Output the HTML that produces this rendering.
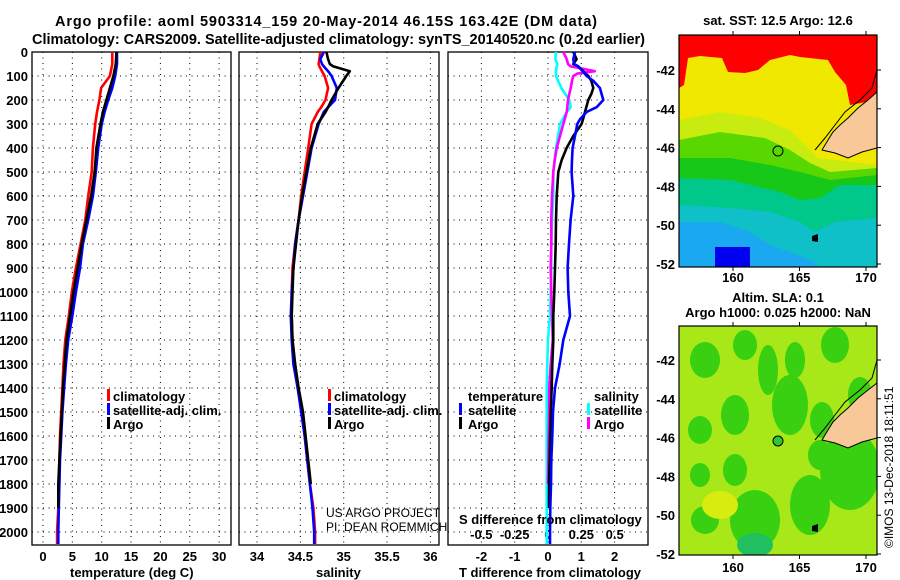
<!DOCTYPE html>
<html><head><meta charset="utf-8"><style>
html,body{margin:0;padding:0;background:#fff;}
svg{display:block;font-family:"Liberation Sans",sans-serif;font-weight:bold;}
</style></head><body>
<svg id="fig" width="900" height="580" viewBox="0 0 900 580" xmlns="http://www.w3.org/2000/svg">
<defs>
<clipPath id="c1"><rect x="32" y="37" width="199" height="508"/></clipPath>
<clipPath id="c2"><rect x="239" y="37" width="200" height="508"/></clipPath>
<clipPath id="c3"><rect x="448" y="37" width="200" height="508"/></clipPath>
<clipPath id="m1"><rect x="679" y="35" width="198" height="232"/></clipPath>
<clipPath id="m2"><rect x="679" y="326" width="198" height="229"/></clipPath>
</defs>
<text x="55" y="26" font-size="14.5" textLength="542">Argo profile: aoml 5903314_159 20-May-2014 46.15S 163.42E (DM data)</text>
<text x="32" y="44" font-size="14.5" textLength="613">Climatology: CARS2009. Satellite-adjusted climatology: synTS_20140520.nc (0.2d earlier)</text>
<g id="grid" stroke="#000" stroke-width="1" stroke-dasharray="1,4.5"></g>
<g id="axes"></g>
<g id="series"></g>
<!-- legends -->
<g font-size="13">
<rect x="107" y="389" width="3" height="12" fill="#f00"/><text x="113" y="401">climatology</text>
<rect x="107" y="403" width="3" height="12" fill="#00f"/><text x="113" y="415">satellite-adj. clim.</text>
<rect x="107" y="417" width="3" height="12" fill="#000"/><text x="113" y="429">Argo</text>
</g>
<g font-size="13">
<rect x="328" y="389" width="3" height="12" fill="#f00"/><text x="334" y="401">climatology</text>
<rect x="328" y="403" width="3" height="12" fill="#00f"/><text x="334" y="415">satellite-adj. clim.</text>
<rect x="328" y="417" width="3" height="12" fill="#000"/><text x="334" y="429">Argo</text>
</g>
<g font-size="12" font-weight="normal">
<text x="326" y="517">US ARGO PROJECT</text><text x="326" y="531">PI: DEAN ROEMMICH</text>
</g>
<g font-size="13">
<text x="468" y="401">temperature</text>
<rect x="459" y="403" width="3" height="12" fill="#00f"/><text x="468" y="415">satellite</text>
<rect x="459" y="417" width="3" height="12" fill="#000"/><text x="468" y="429">Argo</text>
<text x="594" y="401">salinity</text>
<rect x="587" y="403" width="3" height="12" fill="#0ff"/><text x="594" y="415">satellite</text>
<rect x="587" y="417" width="3" height="12" fill="#f0f"/><text x="594" y="429">Argo</text>
</g>
<text x="459" y="524" font-size="13">S difference from climatology</text>
<text x="70" y="577" font-size="13">temperature (deg C)</text>
<text x="316" y="577" font-size="13">salinity</text>
<text x="459" y="577" font-size="13">T difference from climatology</text>

<!-- map 1 SST -->
<text x="778" y="25" font-size="13" text-anchor="middle">sat. SST: 12.5 Argo: 12.6</text>
<g clip-path="url(#m1)">
<rect x="679" y="35" width="198" height="232" fill="#f0e800"/>
<polygon fill="#ff0000" points="679,35 877,35 877,100 850,105 846,85 835,72 828,60 800,57 790,55 770,60 758,70 745,73 728,72 722,58 700,56 688,58 684,85 679,88"/>
<polygon fill="#c8ec10" points="679,120 720,112 760,118 790,130 805,145 818,158 877,165 877,267 679,267"/>
<polygon fill="#58d800" points="679,140 720,132 765,138 790,150 810,163 830,172 877,168 877,267 679,267"/>
<polygon fill="#18c818" points="679,158 730,158 770,165 800,172 830,180 877,175 877,267 679,267"/>
<polygon fill="#00c88a" points="679,178 730,180 780,192 800,200 820,198 840,185 877,185 877,267 679,267"/>
<polygon fill="#10c0c8" points="679,205 730,208 770,212 800,222 815,232 835,222 877,218 877,267 679,267"/>
<polygon fill="#1aa8f0" points="679,222 720,222 750,232 770,245 790,252 810,260 820,267 679,267"/>
<polygon fill="#0000f0" points="715,247 750,247 750,267 715,267"/>
<polygon fill="#f8c898" stroke="#000" stroke-width="1" points="877,92 868,100 858,108 848,118 840,125 833,132 828,140 822,150 835,153 848,158 862,152 877,148"/>
<polyline fill="none" stroke="#000" stroke-width="1" points="877,70 872,88 860,100 845,112 835,125 825,138 815,150"/>
<polygon fill="#000" points="812,236 818,234 818,242 812,241"/>
<circle cx="778" cy="151" r="5" fill="none" stroke="#000" stroke-width="1"/>
</g>
<rect x="679" y="35" width="198" height="232" fill="none" stroke="#000" stroke-width="1.2"/>

<!-- map 2 SLA -->
<text x="778" y="302" font-size="13" text-anchor="middle">Altim. SLA: 0.1</text>
<text x="778" y="317" font-size="13" text-anchor="middle">Argo h1000: 0.025 h2000: NaN</text>
<g clip-path="url(#m2)">
<rect x="679" y="326" width="198" height="229" fill="#a8e818"/>
<g fill="#38d010">
<ellipse cx="705" cy="360" rx="15" ry="18"/><ellipse cx="745" cy="345" rx="12" ry="15"/><ellipse cx="768" cy="370" rx="10" ry="25"/>
<ellipse cx="795" cy="360" rx="10" ry="18"/><ellipse cx="790" cy="405" rx="18" ry="30"/><ellipse cx="835" cy="345" rx="14" ry="18"/>
<ellipse cx="860" cy="395" rx="12" ry="18"/><ellipse cx="700" cy="430" rx="12" ry="14"/><ellipse cx="735" cy="415" rx="14" ry="20"/>
<ellipse cx="735" cy="470" rx="12" ry="16"/><ellipse cx="822" cy="420" rx="12" ry="18"/><ellipse cx="850" cy="470" rx="30" ry="40"/>
<ellipse cx="755" cy="520" rx="25" ry="30"/><ellipse cx="810" cy="505" rx="20" ry="30"/><ellipse cx="705" cy="520" rx="14" ry="14"/>
<ellipse cx="820" cy="455" rx="12" ry="15"/><ellipse cx="700" cy="475" rx="10" ry="12"/>
</g>
<ellipse cx="720" cy="505" rx="18" ry="14" fill="#d8ec10"/>
<ellipse cx="755" cy="545" rx="18" ry="12" fill="#20c060"/>
<polygon fill="#f8c898" stroke="#000" stroke-width="1" points="877,383 868,390 858,398 848,408 840,415 833,422 828,430 822,440 835,443 848,448 862,442 877,438"/>
<polyline fill="none" stroke="#000" stroke-width="1" points="877,360 872,378 860,390 845,402 835,415 825,428 815,440"/>
<polygon fill="#000" points="812,526 818,524 818,532 812,531"/>
<circle cx="778" cy="441" r="5" fill="#30c830" stroke="#000" stroke-width="1"/>
</g>
<rect x="679" y="326" width="198" height="229" fill="none" stroke="#000" stroke-width="1.2"/>
<g id="maplabels" font-size="13"></g>
<text transform="translate(893,548) rotate(-90)" font-size="12" font-weight="normal">©IMOS 13-Dec-2018 18:11:51</text>
</svg>
<script>
// ---- data ----
const depthTicks = [0,100,200,300,400,500,600,700,800,900,1000,1100,1200,1300,1400,1500,1600,1700,1800,1900,2000];
const tempTicks = [0,5,10,15,20,25,30];
const salTicks = [34,34.5,35,35.5,36];
const salTickLabels = ["34","34.5","35","35.5","36"];
const dTTicks = [-2,-1,0,1,2];
const dSTicks = [-0.5,-0.25,0,0.25,0.5];
const dSTickLabels = ["-0.5","-0.25","0","0.25","0.5"];

const tempDepths = [0,50,100,150,200,250,300,400,500,600,700,800,900,1000,1100,1200,1300,1400,1500,1600,1700,1800,1900,2000,2050];
const tempClim = [11.8,11.8,11.4,9.9,9.6,9.2,8.9,8.5,8.3,7.7,7.2,6.4,5.6,4.9,4.4,3.8,3.5,3.3,3.1,2.9,2.8,2.7,2.6,2.4,2.4];
const tempSat  = [12.6,12.6,12.3,11.8,11.1,10.5,10.0,9.4,9.0,8.5,7.7,6.8,6.3,5.6,5.0,4.3,3.9,3.6,3.3,3.1,2.9,2.8,2.7,2.6,2.6];
const tempArgo = [12.5,12.4,12.0,11.4,10.8,10.2,9.8,9.1,8.8,8.2,7.4,6.6,5.9,5.2,4.6,4.0,3.7,3.4,3.2,3.0,2.8,2.6,2.6,null,null];

const salDepths = [0,30,50,60,80,100,150,200,230,250,300,400,500,600,700,800,900,1000,1100,1200,1300,1400,1500,1600,1700,1800,1900,2000,2050];
const salClim = [34.73,34.72,34.71,34.72,34.75,34.78,34.82,34.79,34.74,34.70,34.63,34.59,34.55,34.51,34.48,34.44,34.41,34.40,34.40,34.41,34.44,34.47,34.52,34.55,34.58,34.61,34.65,34.67,34.67];
const salSat  = [34.77,34.73,34.75,34.77,34.82,34.86,34.92,34.90,34.82,34.77,34.71,34.63,34.58,34.53,34.48,34.44,34.42,34.40,34.39,34.40,34.42,34.47,34.51,34.55,34.58,34.61,34.64,34.66,34.66];
const salArgo = [34.80,34.82,34.84,34.88,35.07,35.03,34.94,34.86,34.82,34.79,34.70,34.62,34.57,34.52,34.48,34.45,34.42,34.41,34.40,34.41,34.44,34.48,34.53,34.56,34.59,34.62,null,null,null];

const diffDepths = [0,30,50,60,80,90,100,120,150,175,200,230,250,280,300,350,400,450,500,600,700,800,900,1000,1100,1200,1300,1400,1500,1600,1700,1800,1900,2000,2050];
const dTSat  = [0.81,0.76,0.78,0.91,1.04,1.10,1.16,1.36,1.56,1.61,1.66,1.46,1.16,0.96,0.88,0.81,0.74,0.72,0.71,0.76,0.68,0.63,0.59,0.61,0.66,0.46,0.35,0.21,0.15,0.13,0.10,0.09,0.07,0.06,0.06];
const dTArgo = [0.76,0.86,0.76,0.91,1.06,1.12,1.21,1.30,1.36,1.30,1.21,1.15,1.11,1.05,1.01,0.76,0.56,0.41,0.31,0.26,0.24,0.23,0.21,0.19,0.16,0.16,0.13,0.11,0.08,0.06,0.05,0.03,0.03,null,null];
const dSSat  = [0.06,0.055,0.07,0.065,0.06,0.06,0.06,0.075,0.10,0.13,0.16,0.17,0.14,0.11,0.09,0.075,0.06,0.05,0.04,0.04,0.03,0.025,0.025,0.02,0.015,0.0,-0.005,-0.01,-0.01,-0.01,-0.01,-0.01,-0.01,-0.01,-0.01];
const dSArgo = [0.115,0.14,0.15,0.17,0.35,0.22,0.19,0.18,0.17,0.16,0.15,0.145,0.14,0.125,0.115,0.09,0.065,0.05,0.04,0.03,0.025,0.025,0.02,0.025,0.03,0.035,0.02,0.01,0.008,0.005,0.003,0.0,null,null,null];

// ---- scales ----
const yD = d => 52 + 0.24*d;
const xT = t => 43 + 5.87*t;
const xS = s => 257 + 86.7*(s-34);
const xdT = t => 548 + 33.3*t;
const xdS = s => 548 + 133.3*s;
const NS = "http://www.w3.org/2000/svg";
const grid = document.getElementById('grid'), axes = document.getElementById('axes'), series = document.getElementById('series');
function mk(tag, attrs, parent){ const e=document.createElementNS(NS,tag); for(const k in attrs) e.setAttribute(k,attrs[k]); parent.appendChild(e); return e; }

const panels = [{x0:32,x1:231,clip:'c1'},{x0:239,x1:439,clip:'c2'},{x0:448,x1:648,clip:'c3'}];
panels.forEach(p=>{
  depthTicks.forEach(d=>{ const l=mk('line',{x1:p.x0,x2:p.x1,y1:yD(d),y2:yD(d)},grid);
      });
});
tempTicks.forEach(t=>{ const l=mk('line',{x1:xT(t),x2:xT(t),y1:52,y2:545},grid);
    });
salTicks.forEach(s=>{ const l=mk('line',{x1:xS(s),x2:xS(s),y1:52,y2:545},grid);
    });
dTTicks.forEach(t=>{ const l=mk('line',{x1:xdT(t),x2:xdT(t),y1:52,y2:545},grid);
    });

panels.forEach((p,i)=>{
  const r=mk('rect',{x:p.x0,y:52,width:p.x1-p.x0,height:493,fill:'none',stroke:'#000','stroke-width':1.3},axes);
   
});
depthTicks.forEach(d=>{ const t=mk('text',{x:28,y:yD(d)+5,'text-anchor':'end','font-size':13},axes); t.textContent=d;
    });
tempTicks.forEach(v=>{ const t=mk('text',{x:xT(v),y:561,'text-anchor':'middle','font-size':13},axes); t.textContent=v;
    });
salTicks.forEach((v,i)=>{ const t=mk('text',{x:xS(v),y:561,'text-anchor':'middle','font-size':13},axes); t.textContent=salTickLabels[i];
    });
dTTicks.forEach(v=>{ const t=mk('text',{x:xdT(v),y:561,'text-anchor':'middle','font-size':13},axes); t.textContent=v;
    });
dSTicks.forEach((v,i)=>{ const t=mk('text',{x:xdS(v),y:539,'text-anchor':'middle','font-size':13},axes); t.textContent=dSTickLabels[i];
    });

function profile(depths, vals, xf, color, clip, name){
  let pts=[];
  for(let i=0;i<depths.length;i++){ if(vals[i]===null) continue; pts.push(xf(vals[i]).toFixed(1)+','+yD(depths[i]).toFixed(1)); }
  const pl=mk('polyline',{points:pts.join(' '),fill:'none',stroke:color,'stroke-width':2.6,'stroke-linejoin':'round','clip-path':'url(#'+clip+')'},series);
   
}
profile(tempDepths,tempClim,xT,'#f00','c1','temperature-climatology-line');
profile(tempDepths,tempSat,xT,'#00f','c1','temperature-satellite-line');
profile(tempDepths,tempArgo,xT,'#000','c1','temperature-argo-line');
profile(salDepths,salClim,xS,'#f00','c2','salinity-climatology-line');
profile(salDepths,salSat,xS,'#00f','c2','salinity-satellite-line');
profile(salDepths,salArgo,xS,'#000','c2','salinity-argo-line');
profile(diffDepths,dSSat,xdS,'#0ff','c3','s-diff-satellite-line');
profile(diffDepths,dSArgo,xdS,'#f0f','c3','s-diff-argo-line');
profile(diffDepths,dTArgo,xdT,'#000','c3','t-diff-argo-line');
profile(diffDepths,dTSat,xdT,'#00f','c3','t-diff-satellite-line');

// map labels
const latTicks = [-42,-44,-46,-48,-50,-52];
const lonTicks = [160,165,170];
const ml = document.getElementById('maplabels');
[[70,19.4],[360,19.4]].forEach(([y42,k],mi)=>{
  latTicks.forEach(v=>{ const y=y42+(-42-v)*k;
    const t=mk('text',{x:675,y:y+5,'text-anchor':'end'},ml); t.textContent=v;
     
    mk('line',{x1:877,x2:881,y1:y,y2:y,stroke:'#000'},ml); });
  const yb = mi===0?282:572, ytop = mi===0?35:326, ybot = mi===0?267:555;
  lonTicks.forEach(v=>{ const x=733+(v-160)*13.3;
    const t=mk('text',{x:x,y:yb,'text-anchor':'middle'},ml); t.textContent=v;
     
    mk('line',{x1:x,x2:x,y1:ytop-4,y2:ytop,stroke:'#000'},ml); mk('line',{x1:x,x2:x,y1:ybot,y2:ybot+4,stroke:'#000'},ml); });
});
</script>
</body></html>
